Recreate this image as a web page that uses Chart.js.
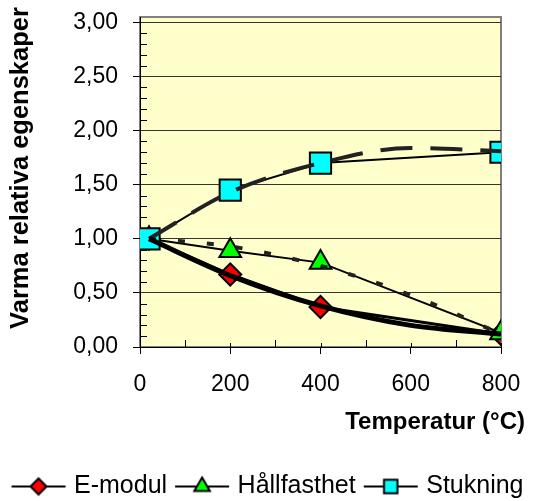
<!DOCTYPE html>
<html>
<head>
<meta charset="utf-8">
<script src="https://cdn.jsdelivr.net/npm/chart.js@4.4.1/dist/chart.umd.min.js"></script>
<style>
  html, body { margin: 0; padding: 0; background: #ffffff; }
  #wrap { width: 539px; height: 501px; }
</style>
</head>
<body>
<div id="wrap"><canvas id="c" width="539" height="501"></canvas></div>
<script>
// Measured temperatures and relative properties
const temperatures = [20, 200, 400, 800];
const eModul = [1.00, 0.67, 0.37, 0.12];
const hallfasthet = [1.00, 0.89, 0.78, 0.13];
const stukning = [1.00, 1.45, 1.70, 1.80];

// Fitted trend curves
const trendTemperatures = [20, 200, 400, 600, 800];
const eModulTrend = [1.00, 0.66, 0.38, 0.20, 0.12];
const hallfasthetTrend = [1.00, 0.93, 0.75, 0.48, 0.12];
const stukningTrend = [1.00, 1.43, 1.70, 1.84, 1.81];

const seriesNames = ['E-modul', 'Hållfasthet', 'Stukning'];
const xTicks = [0, 200, 400, 600, 800];
const yTicks = [0, 0.5, 1.0, 1.5, 2.0, 2.5, 3.0];
const xTitle = 'Temperatur (°C)';
const yTitle = 'Varma relativa egenskaper';

const FONT = '"Liberation Sans", Arial, sans-serif';
const toPoints = (xs, ys) => xs.map((x, i) => ({ x: x, y: ys[i] }));

// Legend swatch: short line with the series marker in the middle
function swatch(style, fill, radius) {
  const c = document.createElement('canvas');
  c.width = 56; c.height = 22;
  const g = c.getContext('2d');
  g.strokeStyle = '#000'; g.lineWidth = 2;
  g.beginPath(); g.moveTo(1, 11); g.lineTo(55, 11); g.stroke();
  g.fillStyle = fill; g.strokeStyle = '#000'; g.lineWidth = 2;
  Chart.helpers.drawPoint(g, { pointStyle: style, radius: radius, borderWidth: 2, rotation: 0 }, 28, 11);
  return c;
}
const swatches = [
  swatch('rectRot', '#FF0000', 8),
  swatch('triangle', '#00FF00', 9),
  swatch('rect', '#00FFFF', 9.5)
];

const plotFrame = {
  id: 'plotFrame',
  beforeDraw(chart) {
    const { ctx, chartArea: a } = chart;
    ctx.save();
    ctx.fillStyle = '#FFFFCC';
    ctx.fillRect(a.left, a.top, a.right - a.left, a.bottom - a.top);
    ctx.strokeStyle = '#808080';
    ctx.lineWidth = 2;
    ctx.strokeRect(a.left, a.top, a.right - a.left, a.bottom - a.top);
    ctx.restore();
  },
  beforeDatasetsDraw(chart) {
    const { ctx, chartArea: a, scales: { x, y } } = chart;
    ctx.save();
    ctx.strokeStyle = '#000';
    ctx.lineWidth = 1;
    ctx.beginPath();
    // minor ticks on the value axis, pointing inwards
    for (let k = 1; k <= 30; k++) {
      if (k % 5 === 0) continue;
      const py = Math.round(y.getPixelForValue(k / 10)) + 0.5;
      ctx.moveTo(a.left, py); ctx.lineTo(a.left + 7, py);
    }
    // minor ticks on the temperature axis, pointing inwards
    for (let t = 100; t < 800; t += 200) {
      const px = Math.round(x.getPixelForValue(t)) + 0.5;
      ctx.moveTo(px, a.bottom); ctx.lineTo(px, a.bottom - 7);
    }
    // inner half of the crossing major ticks
    for (const t of xTicks) {
      const px = Math.round(x.getPixelForValue(t)) + 0.5;
      ctx.moveTo(px, a.bottom); ctx.lineTo(px, a.bottom - 4);
    }
    ctx.stroke();
    ctx.restore();
  },
  afterDraw(chart) {
    const { ctx, chartArea: a } = chart;
    ctx.save();
    ctx.fillStyle = '#000';
    ctx.font = 'bold 24px ' + FONT;
    ctx.textAlign = 'right';
    ctx.textBaseline = 'alphabetic';
    ctx.fillText(xTitle, a.right + 24, a.bottom + 82);
    ctx.translate(a.left - 119, (a.top + a.bottom) / 2 - 14);
    ctx.rotate(-Math.PI / 2);
    ctx.font = 'bold 25.5px ' + FONT;
    ctx.textAlign = 'center';
    ctx.textBaseline = 'middle';
    ctx.fillText(yTitle, 0, 0);
    ctx.restore();
  }
};

const series = (label, ys, style, fill, radius, width, order) => ({
  label: label,
  data: toPoints(temperatures, ys),
  borderColor: '#000',
  borderWidth: width,
  pointStyle: style,
  pointRadius: radius,
  pointHoverRadius: radius,
  pointBackgroundColor: fill,
  pointBorderColor: '#000',
  pointBorderWidth: 2,
  tension: 0,
  order: order
});

const trend = (ys, width, dash, color) => ({
  label: '',
  data: toPoints(trendTemperatures, ys),
  borderColor: color,
  borderWidth: width,
  borderDash: dash,
  pointRadius: 0,
  cubicInterpolationMode: 'monotone',
  order: 0
});

new Chart(document.getElementById('c'), {
  type: 'line',
  data: {
    datasets: [
      series(seriesNames[0], eModul, 'rectRot', '#FF0000', 11, 3, 3),
      series(seriesNames[1], hallfasthet, 'triangle', '#00FF00', 12.5, 2, 2),
      series(seriesNames[2], stukning, 'rect', '#00FFFF', 15, 2, 1),
      trend(eModulTrend, 5, [], '#000'),
      trend(hallfasthetTrend, 4, [7, 22], '#222'),
      trend(stukningTrend, 4, [32, 18], '#222')
    ]
  },
  options: {
    responsive: false,
    animation: false,
    devicePixelRatio: 1,
    layout: { padding: { top: 17, right: 0, bottom: -8, left: 0 } },
    scales: {
      x: {
        type: 'linear',
        min: 0, max: 800,
        afterBuildTicks: s => { s.ticks = xTicks.map(v => ({ value: v })); },
        afterFit: s => { s.height = 115; s.paddingRight = 38; s.paddingLeft = 0; },
        ticks: { font: { family: FONT, size: 23 }, color: '#000', padding: 17, maxRotation: 0, autoSkip: false },
        grid: { drawOnChartArea: false, drawTicks: true, tickLength: 7, color: '#000' },
        border: { display: true, color: '#000', width: 1 }
      },
      y: {
        min: 0, max: 3.05,
        afterBuildTicks: s => { s.ticks = yTicks.map(v => ({ value: v })); },
        afterFit: s => { s.width = 140; s.paddingTop = 0; s.paddingBottom = 0; },
        ticks: {
          font: { family: FONT, size: 23 }, color: '#000', padding: 15,
          callback: v => v.toFixed(2).replace('.', ',')
        },
        grid: { color: '#333', lineWidth: 1, drawTicks: true, tickLength: 7, tickColor: '#000' },
        border: { display: true, color: '#000', width: 1 }
      }
    },
    plugins: {
      tooltip: { enabled: false },
      legend: {
        position: 'bottom',
        labels: {
          usePointStyle: true,
          pointStyleWidth: 46,
          padding: 12,
          color: '#000',
          font: { family: FONT, size: 25 },
          generateLabels: () => seriesNames.map((name, i) => ({
            text: name,
            pointStyle: swatches[i],
            fillStyle: '#000',
            strokeStyle: '#000',
            lineWidth: 0,
            hidden: false,
            datasetIndex: i
          }))
        }
      }
    }
  },
  plugins: [plotFrame]
});
</script>
</body>
</html>
